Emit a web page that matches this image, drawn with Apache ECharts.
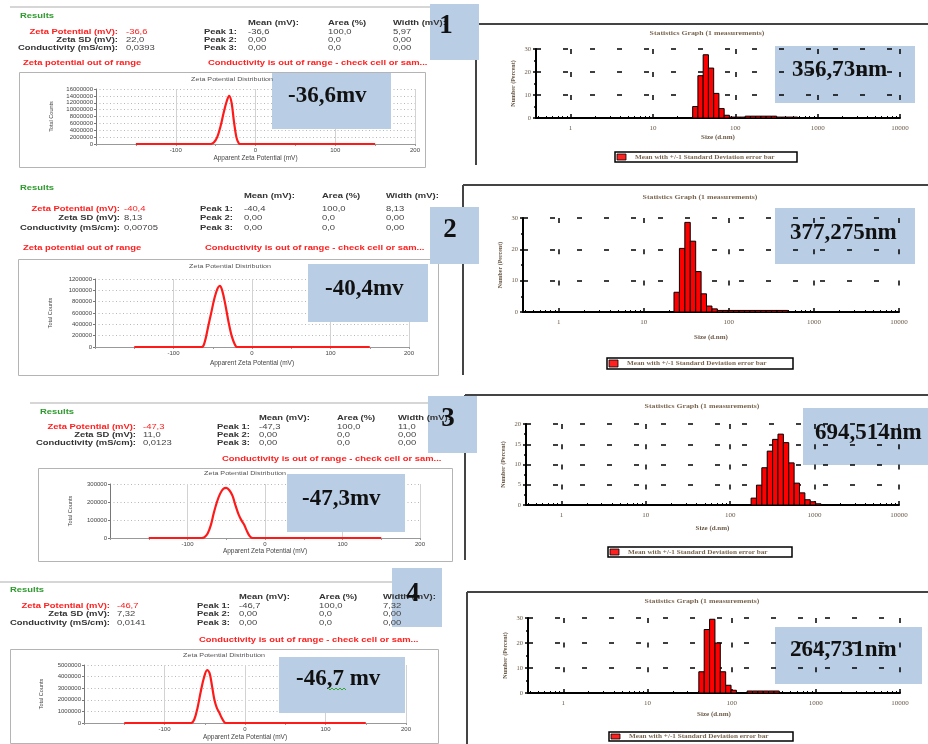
<!DOCTYPE html>
<html><head><meta charset="utf-8">
<script src="https://cdn.jsdelivr.net/npm/echarts@6/dist/echarts.min.js"></script>
<style>html,body{margin:0;padding:0;background:#fff}#c{width:928px;height:744px}</style>
</head><body><div id="c"></div>
<script>
// ---------------- DATA ----------------
// Zeta potential distributions (x: apparent zeta potential mV, y: total counts)
const zetaX1 = [-150, -56, -52, -48, -44, -40, -36, -33, -30, -27, -24, -21, -19, 150];
const zetaY1 = [0, 0, 500000, 2000000, 5000000, 9000000, 12500000, 14000000, 12000000, 6500000, 2000000, 200000, 0, 0];
const zetaX2 = [-150, -64, -60, -56, -52, -48, -44, -41, -38, -34, -30, -26, -22, -19, 150];
const zetaY2 = [0, 0, 100000, 350000, 600000, 850000, 1030000, 1080000, 1000000, 750000, 450000, 200000, 50000, 0, 0];
const zetaX3 = [-150, -82, -78, -74, -70, -66, -62, -58, -54, -50, -46, -42, -38, -34, -30, -27, -24, -20, -16, 150];
const zetaY3 = [0, 0, 5000, 25000, 70000, 140000, 200000, 245000, 272000, 278000, 265000, 235000, 180000, 130000, 95000, 75000, 45000, 12000, 0, 0];
const zetaX4 = [-150, -67, -63, -59, -55, -51, -47, -44, -41, -38, -35, -32, -29, -26, -24, 150];
const zetaY4 = [0, 0, 300000, 1300000, 2700000, 3900000, 4550000, 4300000, 3200000, 2000000, 1300000, 900000, 450000, 100000, 0, 0];
const zetaYMax = [16000000, 1200000, 300000, 5000000];
const zetaYStep = [2000000, 200000, 100000, 1000000];
const zetaXTicks = [-100, 0, 100, 200];

// Size distributions by number (x: size d.nm bin centre, y: percent)
const size1 = [32.67, 37.84, 43.82, 50.75, 58.77, 68.06, 78.82, 91.28, 105.7, 122.4, 141.8, 164.2, 190.1, 220.2, 255.0, 295.3, 342.0, 396.1, 458.7, 531.2];
const pct1  = [5.0, 18.4, 27.5, 21.7, 10.7, 4.1, 1.2, 0.4, 0.4, 0.4, 0.8, 0.8, 0.8, 0.8, 0.8, 0.8, 0.4, 0.4, 0.4, 0.4];
const size2 = [24.36, 28.21, 32.67, 37.84, 43.82, 50.75, 58.77, 68.06, 78.82, 91.28, 105.7, 122.4, 141.8, 164.2, 190.1, 220.2, 255.0, 295.3, 342.0, 396.1, 458.7];
const pct2  = [6.3, 20.3, 28.6, 22.6, 12.9, 5.8, 1.9, 1.0, 0.5, 0.5, 0.5, 0.5, 0.5, 0.5, 0.5, 0.5, 0.5, 0.5, 0.5, 0.5, 0.5];
const size3 = [190.1, 220.2, 255.0, 295.3, 342.0, 396.1, 458.7, 531.2, 615.1, 712.4, 825.0, 955.4, 1106];
const pct3  = [1.7, 4.9, 9.2, 13.3, 16.2, 17.5, 15.4, 10.4, 5.4, 3.0, 1.3, 0.8, 0.3];
const size4 = [43.82, 50.75, 58.77, 68.06, 78.82, 91.28, 105.7, 164.2, 190.1, 220.2, 255.0, 295.3, 342.0];
const pct4  = [8.5, 25.4, 29.5, 20.0, 8.5, 3.1, 1.1, 0.8, 0.8, 0.8, 0.8, 0.8, 0.8];
const pctMax = [30, 30, 20, 30];
const pctStep = [10, 10, 5, 10];
const sizeTickLabels = ['1', '10', '100', '1000', '10000'];

// Results text
const zetaValue = ['-36,6', '-40,4', '-47,3', '-46,7'];
const zetaSD = ['22,0', '8,13', '11,0', '7,32'];
const conductivity = ['0,0393', '0,00705', '0,0123', '0,0141'];
const peak1Mean = ['-36,6', '-40,4', '-47,3', '-46,7'];
const peak1Area = ['100,0', '100,0', '100,0', '100,0'];
const peak1Width = ['5,97', '8,13', '11,0', '7,32'];
const zetaOutOfRange = [true, true, false, false];
const zetaBoxLabels = ['-36,6mv', '-40,4mv', '-47,3mv', '-46,7 mv'];
const sizeBoxLabels = ['356,73nm', '377,275nm', '694,514nm', '264,731nm'];
const panelNumbers = ['1', '2', '3', '4'];

// ---------------- LAYOUT ----------------
const zetaX = [zetaX1, zetaX2, zetaX3, zetaX4];
const zetaY = [zetaY1, zetaY2, zetaY3, zetaY4];
const sizes = [size1, size2, size3, size4];
const pcts = [pct1, pct2, pct3, pct4];

const zetaGrids = [
  {left: 96, top: 89, width: 319, height: 55, nameGap: 11, yGap: 42},
  {left: 95, top: 279, width: 314, height: 68, nameGap: 13, yGap: 42},
  {left: 110, top: 484, width: 310, height: 54, nameGap: 10, yGap: 37},
  {left: 84, top: 665, width: 322, height: 58, nameGap: 11, yGap: 40}
];
const histGrids = [
  {left: 536, top: 49, width: 364, height: 69, nameGap: 16, step: 23},
  {left: 523, top: 218, width: 376, height: 94, nameGap: 22, step: 31.3},
  {left: 526, top: 424, width: 373, height: 81, nameGap: 20, step: 20.2},
  {left: 528, top: 618, width: 372, height: 75, nameGap: 18, step: 24.6}
];
const textL = [
  {res: [20, 16], hdr: 23, rows: [32, 40, 48], lr: 118, vx: 126, pr: 237, cols: [248, 328, 393], warnY: 63, w1: 23, w2: 208},
  {res: [20, 188], hdr: 196, rows: [209, 218, 228], lr: 120, vx: 124, pr: 233, cols: [244, 322, 386], warnY: 248, w1: 23, w2: 205},
  {res: [40, 412], hdr: 418, rows: [427, 435, 443], lr: 136, vx: 143, pr: 250, cols: [259, 337, 398], warnY: 459, w1: 40, w2: 222},
  {res: [10, 590], hdr: 597, rows: [606, 614, 623], lr: 110, vx: 117, pr: 230, cols: [239, 319, 383], warnY: 640, w1: 10, w2: 199}
];
const zetaFrames = [[19, 72, 406, 95], [18, 259, 420, 116], [38, 468, 414, 93], [10, 649, 428, 94]];
const zetaTitles = [[232, 79], [230, 266], [245, 473], [224, 655]];
const histTitles = [[707, 33], [700, 197], [702, 406], [702, 601]];
const legendBoxes = [[615, 152, 182, 10], [607, 358, 186, 11], [608, 547, 184, 10], [609, 732, 184, 9]];
const panelBorders = [[476, 24, 165], [463, 185, 375], [465, 395, 560], [467, 592, 744]];
const topRules = [[10, 447, 7], null, [30, 452, 403], [0, 440, 582]];
const numBoxes = [[430, 4, 49, 56, 446, 26], [430, 207, 49, 57, 450, 230], [428, 396, 49, 57, 448, 419], [392, 568, 50, 59, 413, 594]];
const zetaBoxes = [[272, 73, 119, 56, 288, 96], [308, 264, 120, 58, 325, 289], [287, 474, 118, 58, 302, 499], [279, 657, 126, 56, 296, 679]];
const sizeBoxes = [[775, 46, 140, 57, 792, 70], [775, 208, 140, 56, 790, 233], [803, 408, 125, 57, 815, 433], [775, 627, 147, 57, 790, 650]];

const BLUE = '#b9cde5';
const RED = '#ff2020';
const SANS = '"Liberation Sans", Arial, sans-serif';
const SERIF = '"Liberation Serif", "Times New Roman", serif';

const G = [];
function txt(x, y, s, o) {
  o = o || {};
  G.push({type: 'text', x: x, y: y, scaleX: o.sx || 1, z: o.z || 50, silent: true,
    rotation: o.rot || 0,
    style: {text: s, font: o.font, fill: o.fill || '#222',
      textAlign: o.align || 'left', textVerticalAlign: 'middle',
      align: o.align || 'left', verticalAlign: 'middle'}});
}
function rect(x, y, w, h, fill, stroke, lw, z) {
  G.push({type: 'rect', z: z, silent: true, shape: {x: x, y: y, width: w, height: h},
    style: {fill: fill || 'none', stroke: stroke || 'none', lineWidth: lw || 1}});
}
function line(x1, y1, x2, y2, stroke, lw, z) {
  G.push({type: 'line', z: z || 5, silent: true, shape: {x1: x1, y1: y1, x2: x2, y2: y2},
    style: {stroke: stroke, lineWidth: lw}});
}

const B = 'bold 6.5px ' + SANS, N = '6.5px ' + SANS, SX = 1.45;
for (let i = 0; i < 4; i++) {
  const l = textL[i];
  if (topRules[i]) line(topRules[i][0], topRules[i][2], topRules[i][1], topRules[i][2], '#c8c8c8', 1.5, 1);
  txt(l.res[0], l.res[1], 'Results', {font: B, fill: '#2f9a2f', sx: SX});
  txt(l.cols[0], l.hdr, 'Mean (mV):', {font: B, fill: '#333', sx: SX});
  txt(l.cols[1], l.hdr, 'Area (%)', {font: B, fill: '#333', sx: SX});
  txt(l.cols[2], l.hdr, 'Width (mV):', {font: B, fill: '#333', sx: SX});
  txt(l.lr, l.rows[0], 'Zeta Potential (mV):', {font: B, fill: RED, sx: SX, align: 'right'});
  txt(l.lr, l.rows[1], 'Zeta SD (mV):', {font: B, fill: '#333', sx: SX, align: 'right'});
  txt(l.lr, l.rows[2], 'Conductivity (mS/cm):', {font: B, fill: '#333', sx: SX, align: 'right'});
  txt(l.vx, l.rows[0], zetaValue[i], {font: N, fill: RED, sx: SX});
  txt(l.vx, l.rows[1], zetaSD[i], {font: N, fill: '#444', sx: SX});
  txt(l.vx, l.rows[2], conductivity[i], {font: N, fill: '#444', sx: SX});
  const pv = [[peak1Mean[i], peak1Area[i], peak1Width[i]], ['0,00', '0,0', '0,00'], ['0,00', '0,0', '0,00']];
  for (let r = 0; r < 3; r++) {
    txt(l.pr, l.rows[r], 'Peak ' + (r + 1) + ':', {font: B, fill: '#333', sx: SX, align: 'right'});
    for (let c = 0; c < 3; c++) txt(l.cols[c], l.rows[r], pv[r][c], {font: N, fill: '#444', sx: SX});
  }
  if (zetaOutOfRange[i]) txt(l.w1, l.warnY, 'Zeta potential out of range', {font: B, fill: RED, sx: SX});
  txt(l.w2, l.warnY, 'Conductivity is out of range - check cell or sam...', {font: B, fill: RED, sx: SX});
  // zeta chart frame + title
  const f = zetaFrames[i];
  rect(f[0] + 0.5, f[1] + 0.5, f[2], f[3], 'none', '#b4b4b4', 1, 1);
  txt(zetaTitles[i][0], zetaTitles[i][1], 'Zeta Potential Distribution', {font: '5.5px ' + SANS, fill: '#555', sx: 1.3, align: 'center'});
  // right panel border + title + legend
  const pb = panelBorders[i];
  line(pb[0], pb[1], 928, pb[1], '#444', 2, 1);
  line(pb[0], pb[1], pb[0], pb[2], '#444', 2, 1);
  txt(histTitles[i][0], histTitles[i][1], 'Statistics Graph (1 measurements)', {font: 'bold 6.5px ' + SERIF, fill: '#7a6650', sx: 1.2, align: 'center'});
  const lb = legendBoxes[i];
  rect(lb[0], lb[1], lb[2], lb[3], '#fff', '#000', 1.5, 5);
  rect(lb[0] + 2, lb[1] + 2, 9, lb[3] - 4, RED, '#000', 0.8, 6);
  txt(lb[0] + 20, lb[1] + lb[3] / 2, 'Mean with +/-1 Standard Deviation error bar', {font: 'bold 6px ' + SERIF, fill: '#7a6650', sx: 1.2, z: 7});
  // number box
  const nb = numBoxes[i];
  rect(nb[0], nb[1], nb[2], nb[3], BLUE, 'none', 1, 40);
  txt(nb[4], nb[5], panelNumbers[i], {font: 'bold 27px ' + SERIF, fill: '#111', align: 'center', z: 60});
  // zeta value box (on top)
  const zb = zetaBoxes[i];
  rect(zb[0], zb[1], zb[2], zb[3], BLUE, 'none', 1, 40);
  txt(zb[4], zb[5], zetaBoxLabels[i], {font: 'bold 23px ' + SERIF, fill: '#111', z: 60});
  // size box (below grid dashes)
  const sb = sizeBoxes[i];
  rect(sb[0], sb[1], sb[2], sb[3], BLUE, 'none', 1, -1);
  txt(sb[4], sb[5], sizeBoxLabels[i], {font: 'bold 23px ' + SERIF, fill: '#111', z: 60});
}
// green spell-check squiggle under "46,7"
G.push({type: 'polyline', z: 61, silent: true, shape: {points: [[328, 688], [330, 690], [332, 688], [334, 690], [336, 688], [338, 690], [340, 688], [342, 690], [344, 688], [346, 690]]}, style: {stroke: '#3aa03a', lineWidth: 1, fill: 'none'}});

// ---------------- AXES / SERIES ----------------
const grids = [], xAxes = [], yAxes = [], series = [];
const minorSizeTicks = [];
for (let d = -1; d <= 3; d++) for (let k = 2; k <= 9; k++) {
  const v = k * Math.pow(10, d);
  if (v > 0.38 && v < 10000) minorSizeTicks.push(v);
}
const HALF_BIN = Math.sqrt(1.1583);

for (let i = 0; i < 4; i++) {
  const z = zetaGrids[i];
  grids.push({left: z.left, top: z.top, width: z.width, height: z.height, containLabel: false, outerBoundsMode: 'none'});
  xAxes.push({gridIndex: i, type: 'value', min: -200, max: 200, interval: 100,
    name: 'Apparent Zeta Potential (mV)', nameLocation: 'middle', nameGap: z.nameGap,
    nameTextStyle: {fontSize: 6.5, color: '#444', fontFamily: SANS},
    axisLine: {show: true, onZero: false, lineStyle: {color: '#999', width: 1}},
    axisTick: {show: true, length: 2, lineStyle: {color: '#999'}},
    minorTick: {show: true, splitNumber: 2, length: 2, lineStyle: {color: '#999'}},
    axisLabel: {fontSize: 6, color: '#444', fontFamily: SANS, margin: 3,
      formatter: v => zetaXTicks.indexOf(v) >= 0 ? String(v) : ''},
    splitLine: {show: true, lineStyle: {color: '#d2d2d2', width: 1}},
    minorSplitLine: {show: false}
  });
  yAxes.push({gridIndex: i, type: 'value', min: 0, max: zetaYMax[i], interval: zetaYStep[i],
    name: 'Total Counts', nameLocation: 'middle', nameGap: z.yGap, nameRotate: 90,
    nameTextStyle: {fontSize: 5.5, color: '#444', fontFamily: SANS},
    axisLine: {show: true, onZero: false, lineStyle: {color: '#777', width: 1}},
    axisTick: {show: true, length: 2, lineStyle: {color: '#777'}},
    axisLabel: {fontSize: 6, color: '#444', fontFamily: SANS, margin: 3, formatter: v => String(v)},
    splitLine: {show: true, lineStyle: {color: '#b8b8b8', width: 1, type: [1, 2.5]}}
  });
  series.push({type: 'line', xAxisIndex: i, yAxisIndex: i, smooth: 0.35, showSymbol: false, symbol: 'none',
    lineStyle: {color: '#ff1a1a', width: 2.2}, z: 3,
    data: zetaX[i].map((x, k) => [x, zetaY[i][k]])});
}
for (let i = 0; i < 4; i++) {
  const h = histGrids[i];
  const gi = 4 + i;
  grids.push({left: h.left, top: h.top, width: h.width, height: h.height, containLabel: false, outerBoundsMode: 'none'});
  const xi = xAxes.length;
  xAxes.push({gridIndex: gi, type: 'log', logBase: 10, min: 0.38, max: 10000,
    name: 'Size (d.nm)', nameLocation: 'middle', nameGap: h.nameGap,
    nameTextStyle: {fontSize: 7, color: '#6b5a48', fontFamily: SERIF, fontWeight: 'bold'},
    axisLine: {show: true, onZero: false, lineStyle: {color: '#000', width: 2}},
    axisTick: {show: true, inside: true, length: 4, lineStyle: {color: '#000', width: 1.5}},
    axisLabel: {fontSize: 7, color: '#6b5a48', fontFamily: SERIF, margin: 7,
      formatter: v => { const s = String(Math.round(v)); return (sizeTickLabels.indexOf(s) >= 0 && Math.abs(v - Math.round(v)) < 1e-6) ? s : ''; }},
    splitLine: {show: true, lineStyle: {color: '#000', width: 1.5, type: [5, h.step - 5]}}
  });
  xAxes.push({gridIndex: gi, type: 'log', logBase: 10, min: 0.38, max: 10000, position: 'bottom',
    axisLine: {show: false}, axisLabel: {show: false}, splitLine: {show: false},
    axisTick: {show: true, inside: true, length: 2, customValues: minorSizeTicks, lineStyle: {color: '#000', width: 1}}
  });
  yAxes.push({gridIndex: gi, type: 'value', min: 0, max: pctMax[i], interval: pctStep[i],
    name: 'Number (Percent)', nameLocation: 'middle', nameGap: 20, nameRotate: 90,
    nameTextStyle: {fontSize: 6, color: '#6b5a48', fontFamily: SERIF, fontWeight: 'bold'},
    axisLine: {show: true, onZero: false, lineStyle: {color: '#000', width: 2}},
    axisTick: {show: true, length: 3, lineStyle: {color: '#000', width: 1.5}},
    minorTick: {show: true, splitNumber: 2, length: 2, lineStyle: {color: '#000', width: 1.5}},
    axisLabel: {fontSize: 6.5, color: '#6b5a48', fontFamily: SERIF, margin: 5, formatter: v => String(v)},
    splitLine: {show: true, lineStyle: {color: '#000', width: 1.5, type: [5, 22]}}
  });
  series.push({type: 'custom', xAxisIndex: xi, yAxisIndex: 4 + i, clip: false, z: 3,
    encode: {x: 0, y: 1},
    data: sizes[i].map((s, k) => [s, pcts[i][k]]),
    renderItem: function (params, api) {
      const s = api.value(0), v = api.value(1);
      const p0 = api.coord([s / HALF_BIN, v]);
      const p1 = api.coord([s * HALF_BIN, 0]);
      return {type: 'rect', shape: {x: p0[0], y: p0[1], width: p1[0] - p0[0], height: p1[1] - p0[1]},
        style: {fill: '#ff0000', stroke: '#000', lineWidth: 1}};
    }
  });
}

const chart = echarts.init(document.getElementById('c'), null, {renderer: 'canvas'});
chart.setOption({
  animation: false,
  backgroundColor: '#fff',
  grid: grids, xAxis: xAxes, yAxis: yAxes, series: series,
  graphic: {elements: G}
});
</script></body></html>
